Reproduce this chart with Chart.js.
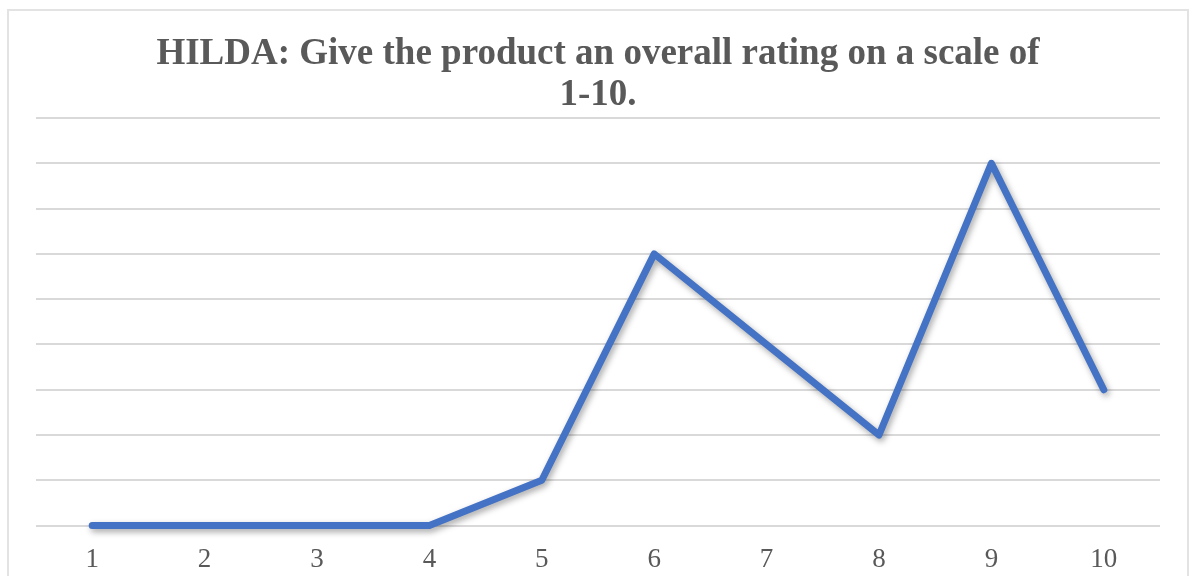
<!DOCTYPE html>
<html>
<head>
<meta charset="utf-8">
<script src="https://cdn.jsdelivr.net/npm/chart.js@4"></script>
<style>
    html, body { margin: 0; padding: 0; background: #fff; overflow: hidden; }
    #wrap { position: absolute; left: 0; top: 0; width: 1194px; height: 598px; }
    #frame { position: absolute; left: 7px; top: 9px; width: 1178px; height: 600px; border: 2px solid #e3e3e3; pointer-events: none; }
</style>
</head>
<body>
<div id="wrap"><canvas id="ratingChart"></canvas></div>
<div id="frame"></div>
<script>
const categories = ['1', '2', '3', '4', '5', '6', '7', '8', '9', '10'];
const ratingCounts = [0, 0, 0, 0, 1, 6, 4, 2, 8, 3];
const titleLines = ['HILDA: Give the product an overall rating on a scale of', '1-10.'];

const lineShadow = {
    id: 'lineShadow',
    beforeDatasetsDraw(chart) {
        const c = chart.ctx;
        c.save();
        c.shadowColor = 'rgba(0, 0, 0, 0.35)';
        c.shadowBlur = 6;
        c.shadowOffsetX = 2;
        c.shadowOffsetY = 3;
    },
    afterDatasetsDraw(chart) {
        chart.ctx.restore();
    }
};

document.addEventListener('DOMContentLoaded', function() {
    const ctx = document.getElementById('ratingChart');
    new Chart(ctx, {
        type: 'line',
        data: {
            labels: categories,
            datasets: [{
                label: 'Rating',
                data: ratingCounts,
                borderColor: '#4472C4',
                borderWidth: 7,
                borderCapStyle: 'round',
                borderJoinStyle: 'round',
                pointRadius: 0,
                tension: 0,
                fill: false,
                clip: false
            }]
        },
        options: {
            responsive: true,
            maintainAspectRatio: false,
            animation: false,
            layout: { padding: { left: 36, right: 34, top: 0, bottom: 4 } },
            scales: {
                x: {
                    offset: true,
                    grid: { display: false, drawTicks: false },
                    border: { display: false },
                    ticks: {
                        color: '#595959',
                        padding: 18,
                        font: { family: '"Liberation Serif", "Times New Roman", serif', size: 27 }
                    }
                },
                y: {
                    min: 0,
                    max: 9,
                    ticks: { display: false, stepSize: 1 },
                    grid: { color: '#d9d9d9', lineWidth: 2, drawTicks: false },
                    border: { display: false }
                }
            },
            plugins: {
                legend: { display: false },
                tooltip: { enabled: false },
                title: {
                    display: true,
                    text: titleLines,
                    color: '#595959',
                    font: { family: '"Liberation Serif", "Times New Roman", serif', size: 37, weight: 'bold', lineHeight: 1.108 },
                    padding: { top: 34, bottom: 2 }
                }
            }
        },
        plugins: [lineShadow]
    });
});
</script>
</body>
</html>
